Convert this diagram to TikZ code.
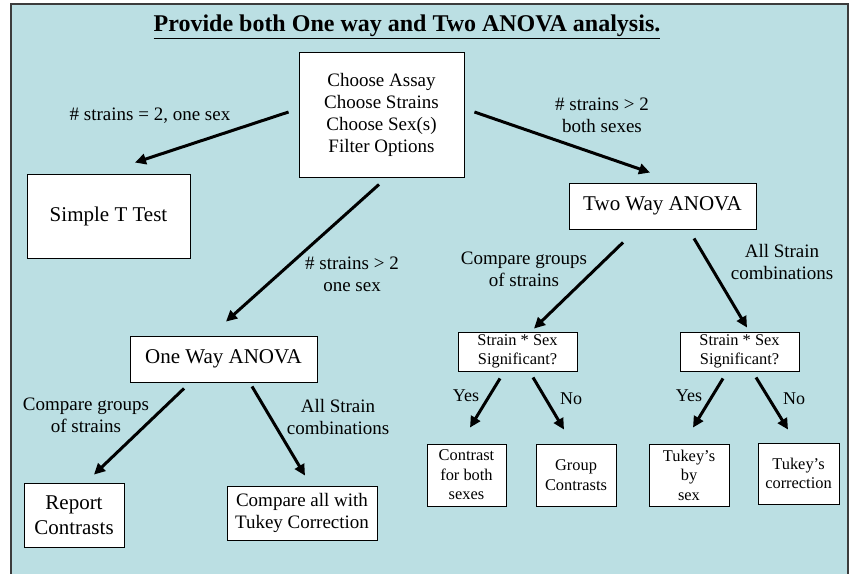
\documentclass[tikz,border=0pt]{standalone}
\usepackage{fontspec}
\setmainfont{Liberation Serif}
\usetikzlibrary{arrows.meta,calc}
\definecolor{bgc}{RGB}{187,223,227}
\definecolor{framec}{RGB}{60,60,60}
\tikzset{
  bx/.style={draw=black,fill=white,line width=0.9pt,inner sep=0pt,align=center},
  fBig/.style={font=\fontsize{21}{25}\selectfont},
  fMid/.style={font=\fontsize{19}{22}\selectfont},
  fSm/.style={font=\fontsize{16.4}{19.5}\selectfont},
  fYN/.style={font=\fontsize{18}{21}\selectfont},
  lbl/.style={align=center,inner sep=0pt},
  arr/.style={line width=3pt,-{Triangle[length=11pt,width=10.5pt]}},
}
\begin{document}
\begin{tikzpicture}[x=1pt,y=-1pt]
\useasboundingbox (0,0) rectangle (850,573);
\fill[white] (0,0) rectangle (850,573);
\draw[framec,line width=1.5pt,fill=bgc] (11,600) -- (11,4) -- (848,4) -- (848,600);

% title
\node[lbl,font=\fontsize{24}{28}\selectfont\bfseries] (title) at (407,26.5) {\underline{Provide both One way and Two ANOVA analysis.}};

% nodes
\node[bx,fMid,minimum width=165pt,minimum height=125pt] (top) at (381.5,114.5)
  {Choose Assay\\Choose Strains\\Choose Sex(s)\\Filter Options};
\node[bx,fBig,minimum width=163pt,minimum height=84pt] (simple) at (108.5,216) {Simple T Test};
\node[bx,fBig,minimum width=187pt,minimum height=46pt] (one) at (223.5,359) {One Way ANOVA};
\node[bx,fBig,minimum width=100pt,minimum height=64pt] (report) at (74,515) {Report\\Contrasts};
\node[bx,fMid,minimum width=150pt,minimum height=54pt] (tukeyc) at (302,513) {Compare all with\\Tukey Correction};
\node[bx,fBig,minimum width=187pt,minimum height=46pt] (two) at (662.5,206) {Two Way ANOVA};
\node[bx,fSm,minimum width=119pt,minimum height=39pt] (ssl) at (517.5,351.5) {Strain * Sex\\Significant?};
\node[bx,fSm,minimum width=119pt,minimum height=39pt] (ssr) at (739.5,351.5) {Strain * Sex\\Significant?};
\node[bx,fSm,minimum width=79pt,minimum height=62pt] (cfb) at (466.5,475) {Contrast\\for both\\sexes};
\node[bx,fSm,minimum width=80pt,minimum height=62pt] (gc) at (576,475) {Group\\Contrasts};
\node[bx,fSm,minimum width=80pt,minimum height=62pt] (tbs) at (689,475) {Tukey’s\\by\\sex};
\node[bx,fSm,minimum width=81pt,minimum height=61pt] (tc) at (798.5,473.5) {Tukey’s\\correction};

% labels
\node[lbl,fMid] (l1) at (150,116) {\# strains = 2, one sex};
\node[lbl,fMid] (l2) at (602,115.5) {\# strains > 2\\both sexes};
\node[lbl,fMid] (l3) at (352,274.5) {\# strains > 2\\one sex};
\node[lbl,fMid] (l4) at (86,415) {Compare groups\\of strains};
\node[lbl,fMid] (l5) at (338,417) {All Strain\\combinations};
\node[lbl,fMid] (l6) at (524,269) {Compare groups\\of strains};
\node[lbl,fMid] (l7) at (782,262) {All Strain\\combinations};
\node[lbl,fYN] (y1) at (466,396) {Yes};
\node[lbl,fYN] (n1) at (571,399) {No};
\node[lbl,fYN] (y2) at (689,396) {Yes};
\node[lbl,fYN] (n2) at (794,399) {No};

% arrows
\draw[arr] ([shift={(-10,-2.5)}]top.west) -- ([shift={(26.5,-11)}]simple.north);
\draw[arr] ([shift={(10,-2.5)}]top.east) -- ([shift={(-12.5,-10)}]two.north);
\draw[arr] ([shift={(-2.5,7)}]top.south) -- ([shift={(2.5,-14)}]one.north);
\draw[arr] ([shift={(-39.5,6)}]one.south) -- ([shift={(20,-8)}]report.north);
\draw[arr] ([shift={(28.5,4)}]one.south) -- ([shift={(3,-10)}]tukeyc.north);
\draw[arr] ([shift={(-39.5,13)}]two.south) -- ([shift={(16.5,-3)}]ssl.north);
\draw[arr] ([shift={(31.5,9)}]two.south) -- ([shift={(7.5,-4)}]ssr.north);
\draw[arr] ([shift={(-17.5,7)}]ssl.south) -- ([shift={(3.5,-16)}]cfb.north);
\draw[arr] ([shift={(15.5,6)}]ssl.south) -- ([shift={(-12,-14)}]gc.north);
\draw[arr] ([shift={(-16.5,7)}]ssr.south) -- ([shift={(4,-16)}]tbs.north);
\draw[arr] ([shift={(16.5,6)}]ssr.south) -- ([shift={(-10.5,-13)}]tc.north);
\end{tikzpicture}
\end{document}
